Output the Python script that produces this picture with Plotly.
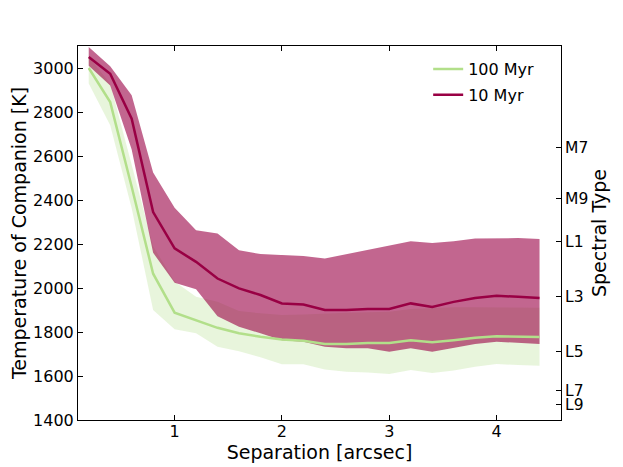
import plotly.graph_objects as go

# separation grid [arcsec]
sep = [0.2, 0.4, 0.6, 0.8, 1.0, 1.2, 1.4, 1.6, 1.8, 2.0, 2.2,
       2.4, 2.6, 2.8, 3.0, 3.2, 3.4, 3.6, 3.8, 4.0, 4.2, 4.4]

# 100 Myr: median and band [K]
t100_med = [3000, 2845, 2460, 2065, 1888, 1855, 1819, 1794, 1778, 1766, 1760,
            1745, 1745, 1750, 1750, 1763, 1754, 1763, 1774, 1781, 1778, 1777]
t100_lo = [2929, 2740, 2363, 1900, 1812, 1794, 1733, 1713, 1685, 1653, 1653,
           1630, 1619, 1616, 1609, 1627, 1614, 1625, 1642, 1654, 1650, 1647]
t100_hi = [3050, 2930, 2560, 2190, 2030, 1960, 1937, 1895, 1885, 1877, 1880,
           1885, 1888, 1890, 1892, 1905, 1910, 1912, 1912, 1912, 1912, 1910]

# 10 Myr: median and band [K]
t10_med = [3050, 2974, 2770, 2345, 2180, 2119, 2043, 1998, 1968, 1930, 1925,
           1900, 1900, 1905, 1905, 1930, 1914, 1937, 1955, 1965, 1960, 1955]
t10_lo = [3010, 2920, 2630, 2160, 2024, 1994, 1872, 1824, 1794, 1763, 1756,
          1733, 1726, 1726, 1710, 1726, 1710, 1726, 1745, 1756, 1752, 1745]
t10_hi = [3095, 3008, 2876, 2525, 2365, 2263, 2248, 2172, 2154, 2148, 2145,
          2134, 2154, 2172, 2195, 2213, 2205, 2213, 2225, 2225, 2227, 2223]

# spectral type scale on the right axis
spt_temps = [2640, 2405, 2210, 1960, 1710, 1535, 1470]
spt_labels = ["M7", "M9", "L1", "L3", "L5", "L7", "L9"]

green = "rgb(178,223,138)"
green_fill = "rgba(178,223,138,0.3)"
crimson = "rgb(153,0,68)"
crimson_fill = "rgba(153,0,68,0.6)"

font = dict(family="DejaVu Sans", size=16, color="black")

fig = go.Figure()

# bands
fig.add_trace(go.Scatter(x=sep, y=t100_lo, mode="lines", line=dict(width=0),
                         showlegend=False, hoverinfo="skip"))
fig.add_trace(go.Scatter(x=sep, y=t100_hi, mode="lines", line=dict(width=0),
                         fill="tonexty", fillcolor=green_fill,
                         showlegend=False, hoverinfo="skip"))
fig.add_trace(go.Scatter(x=sep, y=t10_lo, mode="lines", line=dict(width=0),
                         showlegend=False, hoverinfo="skip"))
fig.add_trace(go.Scatter(x=sep, y=t10_hi, mode="lines", line=dict(width=0),
                         fill="tonexty", fillcolor=crimson_fill,
                         showlegend=False, hoverinfo="skip"))

# medians
fig.add_trace(go.Scatter(x=sep, y=t100_med, mode="lines", name="100 Myr",
                         line=dict(color=green, width=2.5),
                         legendgroup="a", legendrank=1))
fig.add_trace(go.Scatter(x=sep, y=t10_med, mode="lines", name="10 Myr",
                         line=dict(color=crimson, width=2.5),
                         legendgroup="b", legendrank=2))

# hidden trace so the right axis is drawn
fig.add_trace(go.Scatter(x=sep, y=t10_med, yaxis="y2", mode="lines",
                         line=dict(width=0), opacity=0,
                         showlegend=False, hoverinfo="skip"))

fig.update_layout(
    width=623, height=467,
    margin=dict(l=78, r=62, t=46, b=47),
    paper_bgcolor="white", plot_bgcolor="white",
    font=font,
    showlegend=True,
    legend=dict(x=0.725, y=0.984, xanchor="left", yanchor="top",
                bgcolor="rgba(0,0,0,0)", borderwidth=0,
                traceorder="grouped", tracegroupgap=2,
                font=dict(family="DejaVu Sans", size=16)),
    xaxis=dict(range=[0.1, 4.6], tickvals=[1, 2, 3, 4], automargin=False,
               showgrid=False, zeroline=False,
               showline=True, linecolor="black", linewidth=1, mirror="ticks",
               ticks="inside", ticklen=5, tickcolor="black",
               ticklabelstandoff=-3,
               title=dict(text="Separation [arcsec]", standoff=0)),
    yaxis=dict(range=[1400, 3100], tickvals=[1400, 1600, 1800, 2000, 2200,
                                              2400, 2600, 2800, 3000],
               automargin=False,
               showgrid=False, zeroline=False,
               showline=True, linecolor="black", linewidth=1,
               ticks="inside", ticklen=5, tickcolor="black",
               title=dict(text="Temperature of Companion [K]", standoff=1)),
    yaxis2=dict(range=[1400, 3100], overlaying="y", side="right",
                tickvals=spt_temps, ticktext=spt_labels, automargin=False,
                tickfont=dict(family="DejaVu Sans", size=15.5),
                showgrid=False, zeroline=False,
                showline=True, linecolor="black", linewidth=1,
                ticks="inside", ticklen=5, tickcolor="black",
                title=dict(text="Spectral Type", standoff=2)),
)

fig.write_html("out.html", config={"displayModeBar": False},
               post_script="document.body.style.margin='0';")
